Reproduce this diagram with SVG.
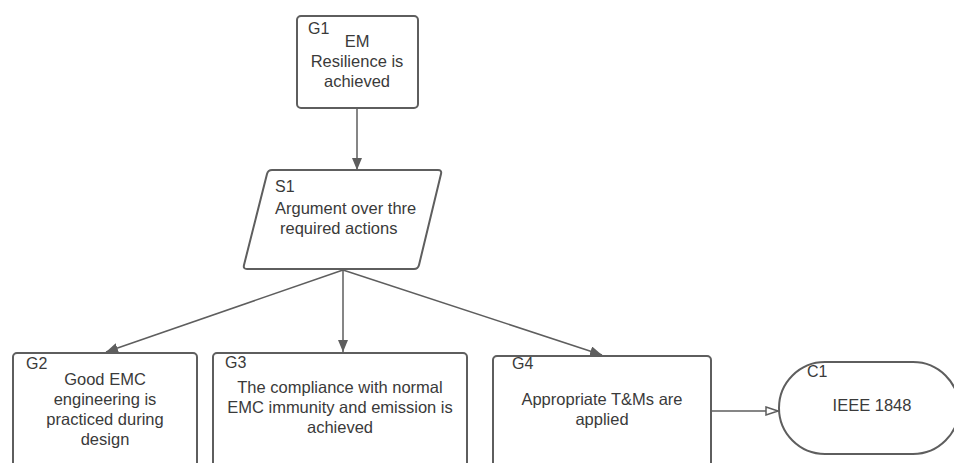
<svg xmlns="http://www.w3.org/2000/svg" width="954" height="463" viewBox="0 0 954 463">
  <style>
    .box { fill: #ffffff; stroke: #5e5e5e; stroke-width: 2; }
    .link { fill: none; stroke: #5e5e5e; stroke-width: 1.5; }
    .txt { font-family: "Liberation Sans", Arial, sans-serif; font-size: 16.5px; fill: #3a3a3a; text-anchor: middle; }
    .id { font-family: "Liberation Sans", Arial, sans-serif; font-size: 16px; fill: #3a3a3a; }
    .left { text-anchor: start; }
  </style>
  <defs>
    <marker id="solid" viewBox="0 0 12 10" refX="12" refY="5" markerWidth="12" markerHeight="10" markerUnits="userSpaceOnUse" orient="auto">
      <path d="M0,0 L12,5 L0,10 Z" fill="#5e5e5e"/>
    </marker>
    <marker id="hollow" viewBox="0 0 14 10" refX="14" refY="5" markerWidth="14" markerHeight="10" markerUnits="userSpaceOnUse" orient="auto">
      <path d="M1,1 L13,5 L1,9 Z" fill="#ffffff" stroke="#5e5e5e" stroke-width="1.5"/>
    </marker>
  </defs>

  <rect width="954" height="463" fill="#ffffff"/>

  <!-- connectors -->
  <g id="connectors">
    <line class="link" x1="357" y1="108" x2="357" y2="170" marker-end="url(#solid)"/>
    <line class="link" x1="343" y1="270" x2="106" y2="352" marker-end="url(#solid)"/>
    <line class="link" x1="343" y1="270" x2="343" y2="352" marker-end="url(#solid)"/>
    <line class="link" x1="343" y1="270" x2="602" y2="355" marker-end="url(#solid)"/>
    <line class="link" x1="711" y1="411" x2="779" y2="411" marker-end="url(#hollow)"/>
  </g>

  <g id="G1">
    <rect class="box" x="297" y="16" width="121" height="92" rx="4"/>
    <text class="id left" x="308" y="34">G1</text>
    <text class="txt" x="357" y="47">EM</text>
    <text class="txt" x="357" y="67">Resilience is</text>
    <text class="txt" x="357" y="87">achieved</text>
  </g>

  <g id="S1">
    <path class="box" d="M272,170 L438,170 Q442,170 441,174 L419,265 Q418,269 414,269 L247,269 Q243,269 244,265 L267,174 Q268,170 272,170 Z"/>
    <text class="id left" x="275" y="192">S1</text>
    <text class="txt left" x="275" y="214">Argument over thre</text>
    <text class="txt left" x="280" y="234">required actions</text>
  </g>

  <g id="G2">
    <rect class="box" x="13" y="353" width="184" height="130" rx="4"/>
    <text class="id left" x="26" y="369">G2</text>
    <text class="txt" x="105" y="385">Good EMC</text>
    <text class="txt" x="105" y="405">engineering is</text>
    <text class="txt" x="105" y="425">practiced during</text>
    <text class="txt" x="105" y="445">design</text>
  </g>

  <g id="G3">
    <rect class="box" x="213" y="353" width="254" height="130" rx="4"/>
    <text class="id left" x="225" y="368">G3</text>
    <text class="txt" x="340" y="393">The compliance with normal</text>
    <text class="txt" x="340" y="413">EMC immunity and emission is</text>
    <text class="txt" x="340" y="433">achieved</text>
  </g>

  <g id="G4">
    <rect class="box" x="493" y="356" width="218" height="130" rx="4"/>
    <text class="id left" x="512" y="369">G4</text>
    <text class="txt" x="602" y="405">Appropriate T&amp;Ms are</text>
    <text class="txt" x="602" y="425">applied</text>
  </g>

  <g id="C1">
    <rect class="box" x="779" y="362" width="180" height="92" rx="46"/>
    <text class="id left" x="807" y="377">C1</text>
    <text class="txt" x="872" y="411">IEEE 1848</text>
  </g>
</svg>
